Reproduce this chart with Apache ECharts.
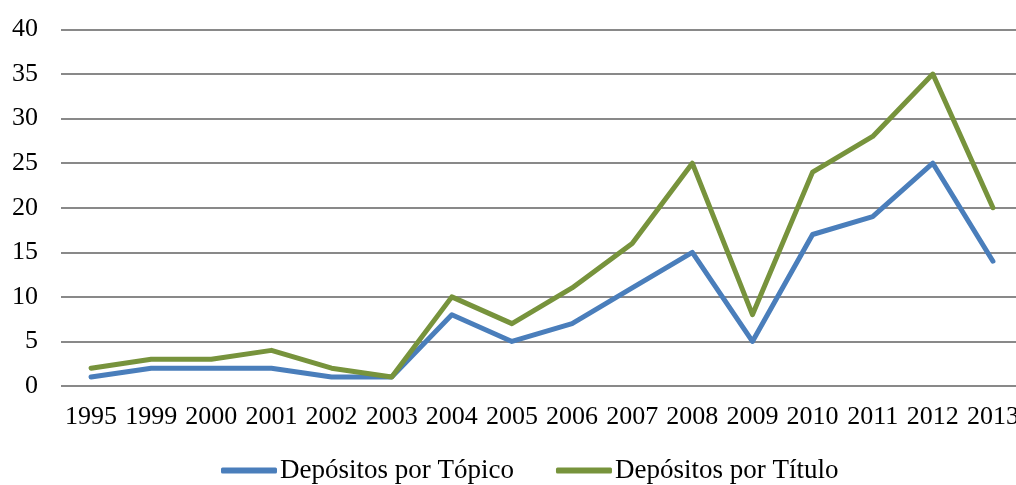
<!DOCTYPE html>
<html>
<head>
<meta charset="utf-8">
<script src="https://cdn.jsdelivr.net/npm/echarts@6/dist/echarts.min.js"></script>
<style>
  html, body { margin: 0; padding: 0; background: #fff; overflow: hidden; }
  #chart { width: 1023px; height: 485px; }
</style>
</head>
<body>
<div id="chart"></div>
<script>
// Deposit counts per year
const years = ['1995','1999','2000','2001','2002','2003','2004','2005','2006','2007','2008','2009','2010','2011','2012','2013'];
const porTopico = [1, 2, 2, 2, 1, 1, 8, 5, 7, 11, 15, 5, 17, 19, 25, 14];
const porTitulo = [2, 3, 3, 4, 2, 1, 10, 7, 11, 16, 25, 8, 24, 28, 35, 20];
const seriesNames = ['Depósitos por Tópico', 'Depósitos por Título'];

const font = '"Liberation Serif", "Times New Roman", serif';
const chart = echarts.init(document.getElementById('chart'), null, { renderer: 'canvas' });

chart.setOption({
  animation: false,
  textStyle: { fontFamily: font },
  grid: { left: 61, right: 0, top: 29.5, bottom: 99, containLabel: false },
  xAxis: {
    type: 'category',
    data: years,
    boundaryGap: true,
    axisLine: { show: false },
    axisTick: { show: false },
    axisLabel: { color: '#000', fontSize: 26, fontFamily: font, margin: 18, interval: 0 }
  },
  yAxis: {
    type: 'value',
    min: 0,
    max: 40,
    interval: 5,
    axisLine: { show: false },
    axisTick: { show: false },
    axisLabel: { color: '#000', fontSize: 26, fontFamily: font, margin: 23 },
    splitLine: { lineStyle: { color: '#898989', width: 2 } }
  },
  legend: {
    left: 221,
    top: 457,
    padding: 0,
    itemWidth: 56,
    itemHeight: 6,
    itemGap: 42,
    icon: 'roundRect',
    textStyle: { color: '#000', fontSize: 27, fontFamily: font, padding: [0, 0, 0, -2] },
    data: seriesNames
  },
  series: [
    {
      name: seriesNames[0],
      type: 'line',
      data: porTopico,
      symbol: 'none',
      lineStyle: { color: '#4a7ebb', width: 5, join: 'round', cap: 'round' },
      itemStyle: { color: '#4a7ebb' }
    },
    {
      name: seriesNames[1],
      type: 'line',
      data: porTitulo,
      symbol: 'none',
      lineStyle: { color: '#77933c', width: 5, join: 'round', cap: 'round' },
      itemStyle: { color: '#77933c' }
    }
  ]
});
</script>
</body>
</html>
